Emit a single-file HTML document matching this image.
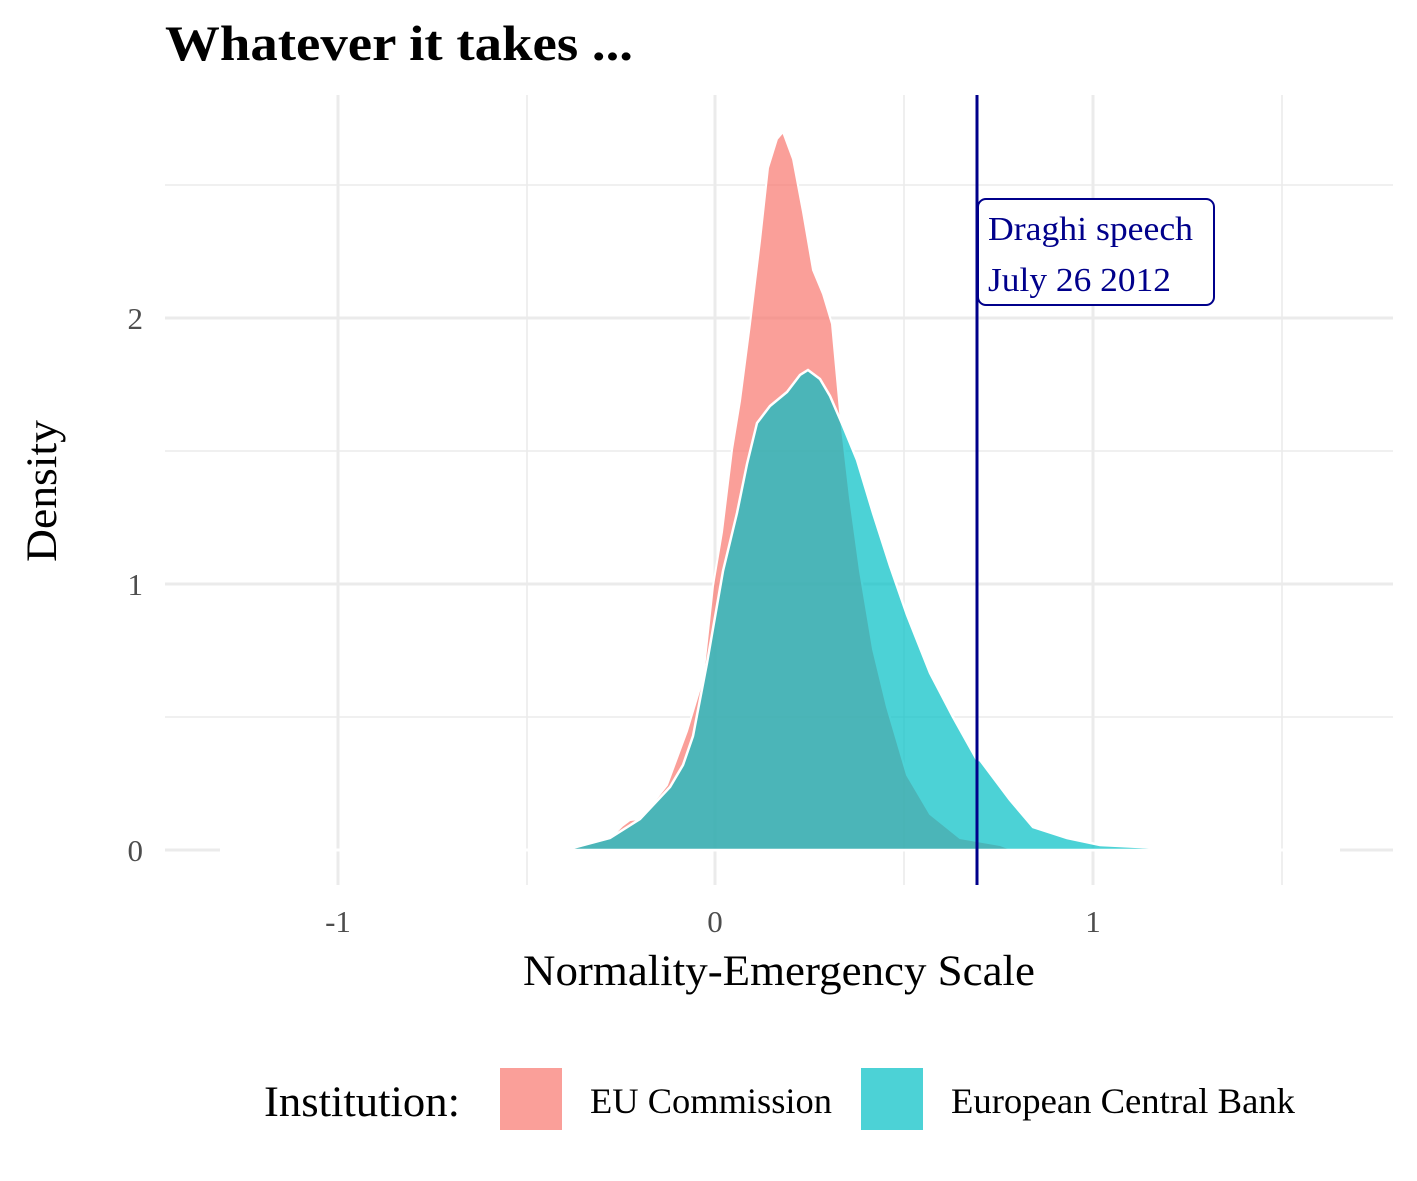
<!DOCTYPE html>
<html><head><meta charset="utf-8"><style>html,body{margin:0;padding:0;background:#fff}svg{display:block}</style></head>
<body>
<svg width="1417" height="1181" viewBox="0 0 1417 1181" xmlns="http://www.w3.org/2000/svg" font-family="Liberation Serif, serif">
<rect width="1417" height="1181" fill="#fff"/>
<g stroke="#ebebeb" stroke-width="1.6">
<line x1="165" x2="1393" y1="717" y2="717"/><line x1="165" x2="1393" y1="451" y2="451"/><line x1="165" x2="1393" y1="185" y2="185"/>
<line x1="527" x2="527" y1="95" y2="885"/><line x1="904" x2="904" y1="95" y2="885"/><line x1="1282" x2="1282" y1="95" y2="885"/>
</g>
<g stroke="#ebebeb" stroke-width="3">
<line x1="165" x2="1393" y1="850" y2="850"/><line x1="165" x2="1393" y1="584" y2="584"/><line x1="165" x2="1393" y1="318" y2="318"/>
<line x1="338" x2="338" y1="95" y2="885"/><line x1="715" x2="715" y1="95" y2="885"/><line x1="1093" x2="1093" y1="95" y2="885"/>
</g>
<line x1="220" x2="1340" y1="850" y2="850" stroke="#fff" stroke-width="3"/>
<path d="M545,850 L565,850 610,838 622,826 630,820 640,819 667,785 687,731 703,678 713,586 722,532 732,450 740,401 750,324 760,241 768,168 777,139 783,132 793,159 803,212 813,270 823,294 832,324 840,411 850,498 860,571 873,649 887,707 907,775 930,814 960,838 1000,845 1013,850 Z" fill="#F8766D" fill-opacity="0.7" stroke="#fff" stroke-width="2"/>
<path d="M545,850 L565,850 610,838 640,819 670,787 683,765 693,736 707,663 723,571 737,513 747,464 757,423 770,406 787,392 800,375 808,370 820,379 830,396 843,426 857,460 873,513 890,566 907,615 930,673 953,717 977,760 980,760 1010,800 1033,827 1067,838 1100,845 1140,847 1173,849 1175,850 Z" fill="#00BFC4" fill-opacity="0.7" stroke="#fff" stroke-width="2.5"/>
<line x1="977" x2="977" y1="95" y2="885" stroke="#00008B" stroke-width="3"/>
<rect x="978" y="199" width="236" height="106" rx="8" fill="#fff" stroke="#00008B" stroke-width="2"/>
<text x="988" y="240" font-size="34" fill="#00008B" textLength="205" lengthAdjust="spacingAndGlyphs">Draghi speech</text>
<text x="988" y="291" font-size="34" fill="#00008B" textLength="183" lengthAdjust="spacingAndGlyphs">July 26 2012</text>
<g font-size="31" fill="#4d4d4d">
<text x="143" y="861" text-anchor="end">0</text><text x="143" y="595" text-anchor="end">1</text><text x="143" y="329" text-anchor="end">2</text>
<text x="338" y="932" text-anchor="middle">-1</text><text x="715" y="932" text-anchor="middle">0</text><text x="1093" y="932" text-anchor="middle">1</text>
</g>
<text x="523" y="985" font-size="43" textLength="512" lengthAdjust="spacingAndGlyphs">Normality-Emergency Scale</text>
<text transform="translate(56,562) rotate(-90)" font-size="43" textLength="142" lengthAdjust="spacingAndGlyphs">Density</text>
<text x="165" y="60" font-size="50" font-weight="bold" textLength="468" lengthAdjust="spacingAndGlyphs">Whatever it takes ...</text>
<text x="264" y="1116" font-size="43" textLength="196" lengthAdjust="spacingAndGlyphs">Institution:</text>
<rect x="500" y="1068" width="62" height="62" fill="#F8766D" fill-opacity="0.7"/>
<text x="590" y="1113" font-size="36" textLength="242" lengthAdjust="spacingAndGlyphs">EU Commission</text>
<rect x="861" y="1068" width="62" height="62" fill="#00BFC4" fill-opacity="0.7"/>
<text x="951" y="1113" font-size="36" textLength="344" lengthAdjust="spacingAndGlyphs">European Central Bank</text>
</svg>
</body></html>
